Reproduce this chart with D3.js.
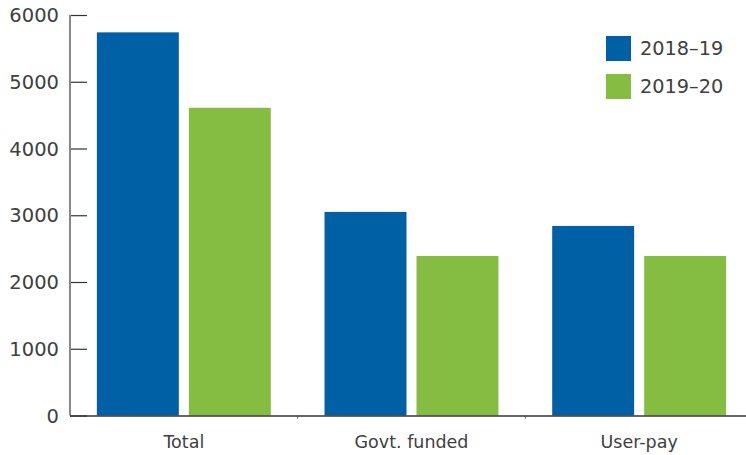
<!DOCTYPE html>
<html>
<head>
<meta charset="utf-8">
<script src="https://cdn.jsdelivr.net/npm/d3@7"></script>
<style>
  body { margin: 0; background: #fff; }
  text { font-family: "DejaVu Sans", sans-serif; fill: #404040; }
</style>
</head>
<body>
<div id="chart"></div>
<script>
(function services_chart() {
  const categories = ["Total", "Govt. funded", "User-pay"];
  const series = ["2018–19", "2019–20"];
  const values2018 = [5740, 3050, 2840];
  const values2019 = [4610, 2390, 2390];
  const yTicks = [0, 1000, 2000, 3000, 4000, 5000, 6000];
  const colors = ["#0060a6", "#84bd41"];

  const width = 746,
    height = 455;

  const svg = d3.select("#chart")
    .append("svg")
    .attr("width", width)
    .attr("height", height);

  const rows = categories.map((c, i) => ({
    category: c,
    values: [values2018[i], values2019[i]]
  }));

  const x0 = d3.scaleBand()
    .domain(categories)
    .range([70, 753])
    .paddingInner(0.236)
    .paddingOuter(0.118);

  const x1 = d3.scaleBand()
    .domain(series)
    .range([0, x0.bandwidth()])
    .paddingInner(0.109);

  const y = d3.scaleLinear()
    .domain([0, 6000])
    .range([415.5, 15]);

  // y axis: grey line, short ticks pointing into the plot
  const yAxis = svg.append("g")
    .attr("transform", "translate(70,0)")
    .call(d3.axisRight(y).tickValues(yTicks).tickSize(17).tickFormat(""));
  yAxis.select(".domain").remove();
  yAxis.selectAll(".tick line").attr("stroke", "#333").attr("stroke-width", 1.2);

  svg.append("line")
    .attr("x1", 70).attr("x2", 70)
    .attr("y1", y(6000)).attr("y2", y(0))
    .attr("stroke", "#888")
    .attr("stroke-width", 2);

  svg.append("g")
    .selectAll("text")
    .data(yTicks)
    .join("text")
    .attr("x", 59)
    .attr("y", d => y(d))
    .attr("dy", "0.36em")
    .attr("text-anchor", "end")
    .attr("font-size", 19.5)
    .text(d => d);

  // bars
  svg.append("g")
    .selectAll("g")
    .data(rows)
    .join("g")
    .attr("transform", d => `translate(${x0(d.category)},0)`)
    .selectAll("rect")
    .data(d => d.values.map((v, i) => ({ key: series[i], value: v, i })))
    .join("rect")
    .attr("x", d => x1(d.key))
    .attr("width", x1.bandwidth())
    .attr("y", d => y(d.value))
    .attr("height", d => y(0) - y(d.value))
    .attr("fill", d => colors[d.i]);

  // x axis
  svg.append("line")
    .attr("x1", 70).attr("x2", width)
    .attr("y1", y(0) + 0.5).attr("y2", y(0) + 0.5)
    .attr("stroke", "#333")
    .attr("stroke-width", 1.5);

  const step = x0.step();
  svg.append("g")
    .selectAll("line")
    .data([1, 2])
    .join("line")
    .attr("x1", d => 70 + d * step).attr("x2", d => 70 + d * step)
    .attr("y1", y(0)).attr("y2", y(0) + 3)
    .attr("stroke", "#555");

  svg.append("g")
    .selectAll("text")
    .data(categories)
    .join("text")
    .attr("x", d => x0(d) + x0.bandwidth() / 2)
    .attr("y", 448)
    .attr("text-anchor", "middle")
    .attr("font-size", 17.5)
    .text(d => d);

  // legend
  const legend = svg.append("g")
    .selectAll("g")
    .data(series)
    .join("g")
    .attr("transform", (d, i) => `translate(606,${36 + i * 38})`);

  legend.append("rect")
    .attr("width", 25)
    .attr("height", 25)
    .attr("fill", (d, i) => colors[i]);

  legend.append("text")
    .attr("x", 34)
    .attr("y", 12.5)
    .attr("dy", "0.36em")
    .attr("font-size", 19.3)
    .text(d => d);
})();
</script>
</body>
</html>
